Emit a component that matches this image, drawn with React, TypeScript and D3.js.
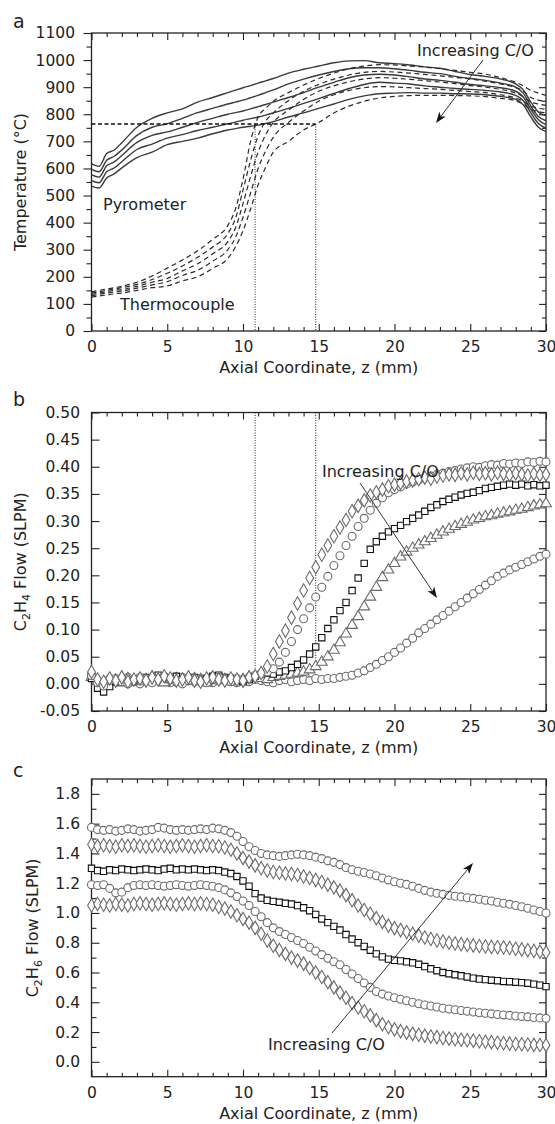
import React, { useEffect, useRef } from "react";
import * as d3 from "d3";

// ---------- Panel a: temperature ----------
const Z_A = [0, 0.5, 1, 1.5, 2, 3, 4, 5, 6, 7, 8, 9, 9.5, 10, 10.5, 11, 11.5, 12, 13, 14, 15, 16, 17, 18, 19, 20, 21, 22, 23, 24, 25, 26, 27, 28, 28.5, 29, 29.5, 30];

const PYROMETER = [
  [618, 608, 655, 668, 695, 752, 785, 805, 820, 845, 862, 880, 889, 898, 906, 915, 923, 932, 952, 966, 978, 990, 997, 998, 990, 987, 982, 975, 970, 958, 947, 940, 930, 912, 890, 845, 808, 795],
  [597, 588, 630, 645, 668, 722, 752, 765, 785, 806, 822, 838, 845, 852, 861, 870, 880, 890, 912, 930, 945, 958, 968, 972, 972, 968, 962, 955, 950, 940, 932, 925, 915, 900, 878, 830, 792, 776],
  [576, 568, 610, 624, 648, 696, 722, 735, 752, 770, 785, 800, 806, 812, 820, 828, 836, 845, 862, 880, 900, 918, 935, 945, 948, 945, 938, 930, 925, 918, 910, 905, 898, 885, 864, 818, 780, 762],
  [555, 547, 588, 602, 625, 670, 690, 712, 725, 740, 752, 765, 771, 778, 784, 790, 797, 805, 822, 840, 858, 877, 895, 910, 918, 915, 912, 905, 900, 895, 892, 888, 882, 870, 850, 805, 766, 749],
  [535, 528, 565, 580, 602, 640, 660, 688, 700, 712, 728, 742, 747, 752, 756, 760, 766, 773, 790, 805, 822, 838, 855, 868, 876, 878, 880, 878, 878, 876, 875, 872, 866, 855, 835, 790, 752, 736],
];

const THERMOCOUPLE = [
  [145, 150, 155, 160, 165, 180, 203, 232, 262, 296, 338, 390, 450, 560, 700, 790, 822, 848, 880, 908, 932, 952, 968, 978, 983, 982, 978, 974, 968, 962, 955, 948, 935, 918, 905, 888, 878, 870],
  [140, 145, 150, 155, 160, 172, 190, 213, 240, 272, 310, 360, 415, 520, 630, 720, 775, 805, 850, 885, 910, 930, 945, 955, 958, 956, 952, 947, 942, 936, 930, 922, 912, 898, 886, 862, 852, 848],
  [135, 140, 145, 150, 153, 165, 180, 194, 222, 248, 285, 330, 380, 470, 570, 660, 725, 770, 815, 855, 885, 905, 920, 930, 935, 933, 929, 924, 919, 913, 906, 900, 892, 878, 865, 845, 838, 833],
  [130, 135, 140, 144, 147, 158, 170, 182, 205, 224, 258, 300, 345, 420, 510, 600, 665, 715, 770, 812, 848, 872, 888, 898, 902, 901, 898, 895, 892, 888, 884, 880, 872, 860, 848, 830, 823, 818],
  [125, 129, 133, 137, 140, 150, 160, 166, 185, 200, 231, 268, 310, 370, 450, 540, 605, 660, 700, 742, 770, 805, 830, 848, 860, 866, 869, 870, 870, 869, 868, 865, 859, 850, 838, 818, 810, 805],
];

const LIGHT_OFF_T = 764;
const LIGHT_OFF_Z = [10.8, 14.8];

// ---------- Panels b and c: flows ----------
const Z_B = [
  0, 0.4, 0.8, 1.2, 1.6, 2, 2.4, 2.8, 3.2, 3.6,
  4, 4.4, 4.8, 5.2, 5.6, 6, 6.4, 6.8, 7.2, 7.6,
  8, 8.4, 8.8, 9.2, 9.6, 10, 10.4, 10.8, 11.2, 11.6,
  12, 12.4, 12.8, 13.2, 13.6, 14, 14.4, 14.8, 15.2, 15.6,
  16, 16.4, 16.8, 17.2, 17.6, 18, 18.4, 18.8, 19.2, 19.6,
  20, 20.4, 20.8, 21.2, 21.6, 22, 22.4, 22.8, 23.2, 23.6,
  24, 24.4, 24.8, 25.2, 25.6, 26, 26.4, 26.8, 27.2, 27.6,
  28, 28.4, 28.8, 29.2, 29.6, 30,
];

const C2H4_1 = [
  0.022, 0.008, 0.004, 0.010, 0.006, 0.012, 0.004, 0.008, 0.010, 0.006,
  0.012, 0.008, 0.014, 0.010, 0.006, 0.008, 0.012, 0.006, 0.004, 0.010,
  0.012, 0.008, 0.006, 0.010, 0.008, 0.006, 0.012, 0.014, 0.020, 0.032,
  0.055, 0.078, 0.098, 0.122, 0.148, 0.172, 0.195, 0.215, 0.238, 0.255,
  0.272, 0.288, 0.302, 0.318, 0.328, 0.338, 0.347, 0.353, 0.358, 0.364,
  0.367, 0.370, 0.373, 0.375, 0.377, 0.380, 0.378, 0.382, 0.384, 0.386,
  0.385, 0.388, 0.386, 0.389, 0.387, 0.388, 0.386, 0.389, 0.387, 0.385,
  0.388, 0.386, 0.384, 0.387, 0.385, 0.386,
];
const C2H4_2 = [
  0.015, 0.002, -0.004, 0.006, 0.010, 0.004, 0.000, 0.008, 0.012, 0.006,
  0.002, 0.010, 0.014, 0.008, 0.004, 0.000, 0.006, 0.010, 0.004, 0.002,
  0.008, 0.012, 0.006, 0.004, 0.010, 0.008, 0.012, 0.016, 0.018, 0.022,
  0.028, 0.040, 0.058, 0.078, 0.100, 0.120, 0.140, 0.160, 0.178, 0.198,
  0.218, 0.236, 0.255, 0.272, 0.290, 0.305, 0.320, 0.333, 0.343, 0.352,
  0.358, 0.363, 0.368, 0.372, 0.376, 0.380, 0.383, 0.386, 0.388, 0.391,
  0.393, 0.396, 0.398, 0.400, 0.399, 0.402, 0.404, 0.403, 0.406, 0.405,
  0.407, 0.406, 0.409, 0.408, 0.410, 0.409,
];
const C2H4_3 = [
  0.010, -0.008, -0.015, -0.005, 0.004, 0.008, 0.002, 0.006, 0.010, 0.012,
  0.008, 0.016, 0.012, 0.010, 0.014, 0.008, 0.010, 0.012, 0.006, 0.010,
  0.014, 0.016, 0.012, 0.010, 0.006, 0.004, 0.008, 0.014, 0.018, 0.020,
  0.018, 0.022, 0.024, 0.030, 0.036, 0.044, 0.055, 0.068, 0.085, 0.102,
  0.118, 0.135, 0.150, 0.172, 0.195, 0.222, 0.248, 0.262, 0.272, 0.280,
  0.286, 0.292, 0.299, 0.305, 0.311, 0.318, 0.325, 0.330, 0.336, 0.340,
  0.344, 0.348, 0.351, 0.353, 0.356, 0.360, 0.362, 0.364, 0.366, 0.368,
  0.366, 0.368, 0.365, 0.367, 0.365, 0.366,
];
const C2H4_4 = [
  0.012, 0.004, 0.000, 0.008, 0.006, 0.002, 0.010, 0.006, 0.004, 0.008,
  0.012, 0.006, 0.002, 0.008, 0.010, 0.004, 0.006, 0.010, 0.008, 0.002,
  0.006, 0.010, 0.008, 0.004, 0.006, 0.008, 0.010, 0.012, 0.010, 0.008,
  0.012, 0.014, 0.016, 0.018, 0.020, 0.022, 0.026, 0.032, 0.040, 0.050,
  0.062, 0.076, 0.092, 0.108, 0.124, 0.142, 0.160, 0.178, 0.196, 0.210,
  0.222, 0.234, 0.243, 0.250, 0.256, 0.262, 0.268, 0.274, 0.280, 0.285,
  0.290, 0.294, 0.298, 0.302, 0.305, 0.308, 0.310, 0.313, 0.315, 0.317,
  0.320, 0.322, 0.325, 0.328, 0.330, 0.332,
];
const C2H4_5 = [
  0.018, 0.006, 0.002, 0.010, 0.004, 0.008, 0.012, 0.004, 0.000, 0.006,
  0.010, 0.008, 0.004, 0.002, 0.008, 0.012, 0.006, 0.004, 0.010, 0.008,
  0.002, 0.006, 0.010, 0.004, 0.002, 0.006, 0.004, 0.008, 0.006, 0.004,
  0.002, 0.006, 0.008, 0.004, 0.006, 0.008, 0.006, 0.010, 0.008, 0.010,
  0.010, 0.012, 0.014, 0.016, 0.020, 0.024, 0.030, 0.036, 0.043, 0.050,
  0.058, 0.066, 0.075, 0.084, 0.094, 0.102, 0.110, 0.118, 0.126, 0.134,
  0.142, 0.150, 0.158, 0.166, 0.174, 0.182, 0.190, 0.198, 0.204, 0.210,
  0.215, 0.220, 0.225, 0.230, 0.235, 0.239,
];

const C2H6_1 = [
  1.575, 1.560, 1.555, 1.560, 1.550, 1.555, 1.565, 1.560, 1.550, 1.555,
  1.560, 1.575, 1.570, 1.560, 1.555, 1.560, 1.555, 1.560, 1.565, 1.560,
  1.570, 1.565, 1.555, 1.540, 1.515, 1.480, 1.445, 1.420, 1.400, 1.390,
  1.385, 1.380, 1.385, 1.390, 1.395, 1.390, 1.385, 1.375, 1.365, 1.350,
  1.340, 1.325, 1.305, 1.290, 1.280, 1.272, 1.262, 1.250, 1.235, 1.222,
  1.210, 1.200, 1.192, 1.180, 1.165, 1.152, 1.140, 1.132, 1.125, 1.118,
  1.112, 1.108, 1.102, 1.098, 1.092, 1.085, 1.080, 1.072, 1.065, 1.058,
  1.050, 1.042, 1.032, 1.020, 1.010, 1.000,
];
const C2H6_2 = [
  1.460, 1.450, 1.455, 1.450, 1.445, 1.455, 1.450, 1.455, 1.450, 1.445,
  1.450, 1.455, 1.450, 1.445, 1.450, 1.455, 1.450, 1.445, 1.450, 1.455,
  1.450, 1.448, 1.440, 1.425, 1.400, 1.370, 1.345, 1.320, 1.300, 1.285,
  1.275, 1.270, 1.265, 1.262, 1.255, 1.245, 1.235, 1.222, 1.208, 1.190,
  1.172, 1.150, 1.120, 1.085, 1.050, 1.020, 0.995, 0.965, 0.940, 0.915,
  0.898, 0.885, 0.872, 0.860, 0.848, 0.835, 0.825, 0.815, 0.808, 0.800,
  0.795, 0.790, 0.785, 0.782, 0.778, 0.775, 0.772, 0.770, 0.768, 0.765,
  0.760, 0.755, 0.750, 0.745, 0.740, 0.735,
];
const C2H6_3 = [
  1.300, 1.285, 1.280, 1.290, 1.285, 1.295, 1.290, 1.285, 1.290, 1.295,
  1.290, 1.285, 1.295, 1.300, 1.290, 1.295, 1.290, 1.295, 1.290, 1.285,
  1.290, 1.285, 1.275, 1.265, 1.245, 1.215, 1.180, 1.130, 1.100, 1.085,
  1.078, 1.072, 1.065, 1.060, 1.050, 1.035, 1.015, 0.990, 0.960, 0.935,
  0.910, 0.885, 0.855, 0.825, 0.800, 0.775, 0.750, 0.725, 0.705, 0.690,
  0.682, 0.678, 0.672, 0.665, 0.655, 0.640, 0.625, 0.612, 0.600, 0.592,
  0.585, 0.578, 0.570, 0.562, 0.556, 0.552, 0.548, 0.545, 0.540, 0.538,
  0.535, 0.532, 0.528, 0.522, 0.515, 0.505,
];
const C2H6_4 = [
  1.190, 1.185, 1.190, 1.165, 1.135, 1.140, 1.170, 1.185, 1.190, 1.185,
  1.190, 1.185, 1.180, 1.185, 1.190, 1.185, 1.180, 1.185, 1.190, 1.185,
  1.180, 1.170, 1.155, 1.135, 1.110, 1.080, 1.050, 1.010, 0.975, 0.935,
  0.900, 0.875, 0.855, 0.835, 0.815, 0.795, 0.770, 0.745, 0.720, 0.695,
  0.672, 0.652, 0.620, 0.590, 0.560, 0.530, 0.500, 0.472, 0.455, 0.442,
  0.430, 0.420, 0.410, 0.400, 0.390, 0.382, 0.375, 0.368, 0.360, 0.355,
  0.350, 0.345, 0.340, 0.335, 0.330, 0.326, 0.322, 0.318, 0.315, 0.312,
  0.308, 0.305, 0.302, 0.298, 0.295, 0.292,
];
const C2H6_5 = [
  1.050, 1.060, 1.055, 1.050, 1.060, 1.055, 1.050, 1.060, 1.065, 1.060,
  1.055, 1.060, 1.065, 1.060, 1.055, 1.060, 1.065, 1.060, 1.065, 1.060,
  1.055, 1.040, 1.030, 1.010, 0.985, 0.960, 0.935, 0.900, 0.860, 0.815,
  0.780, 0.752, 0.725, 0.700, 0.680, 0.660, 0.630, 0.600, 0.570, 0.535,
  0.500, 0.465, 0.430, 0.395, 0.365, 0.340, 0.312, 0.280, 0.252, 0.232,
  0.218, 0.206, 0.196, 0.188, 0.182, 0.176, 0.170, 0.166, 0.160, 0.156,
  0.152, 0.148, 0.145, 0.142, 0.138, 0.135, 0.132, 0.128, 0.125, 0.122,
  0.120, 0.118, 0.116, 0.114, 0.113, 0.112,
];

// tick values
const X_MAJOR = [0, 5, 10, 15, 20, 25, 30];
const X_MINOR = [1, 2, 3, 4, 6, 7, 8, 9, 11, 12, 13, 14, 16, 17, 18, 19, 21, 22, 23, 24, 26, 27, 28, 29];
const YA_MAJOR = [0, 100, 200, 300, 400, 500, 600, 700, 800, 900, 1000, 1100];
const YA_MINOR = [50, 150, 250, 350, 450, 550, 650, 750, 850, 950, 1050];
const YB_MAJOR = [-0.05, 0, 0.05, 0.1, 0.15, 0.2, 0.25, 0.3, 0.35, 0.4, 0.45, 0.5];
const YC_MAJOR = [0, 0.2, 0.4, 0.6, 0.8, 1.0, 1.2, 1.4, 1.6, 1.8];
const YC_MINOR = [0.1, 0.3, 0.5, 0.7, 0.9, 1.1, 1.3, 1.5, 1.7];

const FONT = "'DejaVu Sans', 'Liberation Sans', Arial, sans-serif";
const INK = "#222";
const GREY = "#6a6a6a";

const L = 91.5;
const R = 546;
const PA = { top: 33, bottom: 331 };
const PB = { top: 412.5, bottom: 711 };
const PC = { top: 779, bottom: 1076.7 };

export default function App() {
  const ref = useRef<SVGSVGElement>(null);

  useEffect(() => {
    const svg = d3.select(ref.current);
    svg.selectAll("*").remove();

    const x = d3.scaleLinear().domain([0, 30]).range([L, R]);
    const ya = d3.scaleLinear().domain([0, 1100]).range([PA.bottom, PA.top]);
    const yb = d3.scaleLinear().domain([-0.05, 0.5]).range([PB.bottom, PB.top]);
    const yc = d3.scaleLinear().domain([-0.1, 1.9]).range([PC.bottom, PC.top]);

    const styleAxis = (g: any) => {
      g.selectAll(".domain").remove();
      g.selectAll(".tick line").attr("stroke", INK).attr("stroke-width", 1.1);
      g.selectAll(".tick text")
        .attr("font-family", FONT)
        .attr("font-size", 15.5)
        .attr("fill", INK);
    };

    function axes(
      y: d3.ScaleLinear<number, number>,
      frame: { top: number; bottom: number },
      leftMajor: number[],
      leftMinor: number[],
      leftOut: boolean,
      rightMinor: boolean,
      fmt: (v: number) => string
    ) {
      const g = svg.append("g");
      const bot = g.append("g").attr("transform", `translate(0,${frame.bottom})`);
      bot.call(d3.axisBottom(x).tickValues(X_MAJOR).tickSize(-7).tickPadding(10).tickFormat((d: any) => String(d)) as any);
      bot.append("g").call(d3.axisBottom(x).tickValues(X_MINOR).tickSize(-4).tickFormat(() => "") as any);
      const top = g.append("g").attr("transform", `translate(0,${frame.top})`);
      top.call(d3.axisTop(x).tickValues(X_MAJOR).tickSize(-7).tickFormat(() => "") as any);
      top.append("g").call(d3.axisTop(x).tickValues(X_MINOR).tickSize(-4).tickFormat(() => "") as any);
      const left = g.append("g").attr("transform", `translate(${L},0)`);
      left.call(
        d3.axisLeft(y).tickValues(leftMajor).tickSize(leftOut ? 8 : -8).tickPadding(leftOut ? 8.5 : 11.5).tickFormat((d: any) => fmt(d)) as any
      );
      if (leftMinor.length)
        left.append("g").call(d3.axisLeft(y).tickValues(leftMinor).tickSize(leftOut ? 5 : -5).tickFormat(() => "") as any);
      const right = g.append("g").attr("transform", `translate(${R},0)`);
      right.call(d3.axisRight(y).tickValues(leftMajor).tickSize(-7).tickFormat(() => "") as any);
      if (rightMinor && leftMinor.length)
        right.append("g").call(d3.axisRight(y).tickValues(leftMinor).tickSize(-4).tickFormat(() => "") as any);
      styleAxis(g);
      g.append("rect")
        .attr("x", L)
        .attr("y", frame.top)
        .attr("width", R - L)
        .attr("height", frame.bottom - frame.top)
        .attr("fill", "none")
        .attr("stroke", INK)
        .attr("stroke-width", 1.3);
      g.append("text")
        .attr("x", (L + R) / 2)
        .attr("y", frame.bottom + 42)
        .attr("text-anchor", "middle")
        .attr("font-family", FONT)
        .attr("font-size", 16)
        .attr("fill", INK)
        .text("Axial Coordinate, z (mm)");
    }

    const label = (t: string, xx: number, yy: number, size = 16, anchor = "start") =>
      svg
        .append("text")
        .attr("x", xx)
        .attr("y", yy)
        .attr("font-family", FONT)
        .attr("font-size", size)
        .attr("fill", INK)
        .attr("text-anchor", anchor)
        .text(t);

    const yTitle = (parts: [string, boolean][], xx: number, cy: number) => {
      const t = svg
        .append("text")
        .attr("transform", `translate(${xx},${cy}) rotate(-90)`)
        .attr("text-anchor", "middle")
        .attr("font-family", FONT)
        .attr("font-size", 16)
        .attr("fill", INK);
      let sub = false;
      parts.forEach(([s, isSub]) => {
        const sp = t.append("tspan").text(s);
        if (isSub && !sub) sp.attr("dy", 4).attr("font-size", 11);
        else if (isSub) sp.attr("font-size", 11);
        else if (!isSub && sub) sp.attr("dy", -4);
        sub = isSub;
      });
    };

    const arrow = (x1: number, y1: number, x2: number, y2: number) => {
      const ang = Math.atan2(y2 - y1, x2 - x1);
      const len = 11;
      const w = 4;
      const bx = x2 - len * Math.cos(ang);
      const by = y2 - len * Math.sin(ang);
      svg
        .append("line")
        .attr("x1", x1)
        .attr("y1", y1)
        .attr("x2", bx + 3 * Math.cos(ang))
        .attr("y2", by + 3 * Math.sin(ang))
        .attr("stroke", "#333")
        .attr("stroke-width", 1);
      const p = [
        [x2, y2],
        [bx - w * Math.sin(ang), by + w * Math.cos(ang)],
        [bx + 3 * Math.cos(ang), by + 3 * Math.sin(ang)],
        [bx + w * Math.sin(ang), by - w * Math.cos(ang)],
      ];
      svg.append("path").attr("d", "M" + p.map((q) => q.join(",")).join("L") + "Z").attr("fill", "#111");
    };

    // ---------------- panel a ----------------
    axes(ya, PA, YA_MAJOR, YA_MINOR, true, true, (v) => String(v));
    const lineA = (vals: number[]) =>
      d3
        .line<number>()
        .x((_, i) => x(Z_A[i]))
        .y((v) => ya(v))
        .curve(d3.curveMonotoneX)(vals) as string;

    PYROMETER.forEach((s) =>
      svg.append("path").attr("d", lineA(s)).attr("fill", "none").attr("stroke", "#3a3a3a").attr("stroke-width", 1.4)
    );
    THERMOCOUPLE.forEach((s) =>
      svg
        .append("path")
        .attr("d", lineA(s))
        .attr("fill", "none")
        .attr("stroke", "#2a2a2a")
        .attr("stroke-width", 1.2)
        .attr("stroke-dasharray", "5,3.5")
    );
    // light-off guides
    svg
      .append("line")
      .attr("x1", x(0))
      .attr("x2", x(LIGHT_OFF_Z[1]))
      .attr("y1", ya(LIGHT_OFF_T))
      .attr("y2", ya(LIGHT_OFF_T))
      .attr("stroke", "#111")
      .attr("stroke-width", 1.5)
      .attr("stroke-dasharray", "4,2.5");
    LIGHT_OFF_Z.forEach((z) =>
      svg
        .append("line")
        .attr("x1", x(z))
        .attr("x2", x(z))
        .attr("y1", ya(LIGHT_OFF_T))
        .attr("y2", ya(0))
        .attr("stroke", "#222")
        .attr("stroke-width", 1)
        .attr("stroke-dasharray", "1,1.5")
    );
    label("a", 13, 28, 19);
    label("Pyrometer", 103, 210);
    label("Thermocouple", 120, 310);
    label("Increasing C/O", 417, 56);
    arrow(483, 60, 436, 123);
    yTitle([["Temperature (°C)", false]], 26, (PA.top + PA.bottom) / 2);

    // ---------------- panel b ----------------
    axes(yb, PB, YB_MAJOR, [], false, false, (v) => v.toFixed(2));
    LIGHT_OFF_Z.forEach((z) =>
      svg
        .append("line")
        .attr("x1", x(z))
        .attr("x2", x(z))
        .attr("y1", yb(0.5))
        .attr("y2", yb(0.025))
        .attr("stroke", "#222")
        .attr("stroke-width", 1)
        .attr("stroke-dasharray", "1,1.5")
    );

    const marks = (
      y: d3.ScaleLinear<number, number>,
      vals: number[],
      type: d3.SymbolType,
      size: number,
      stroke: string
    ) => {
      const g = svg.append("g");
      const sym = d3.symbol().type(type).size(size)() as string;
      vals.forEach((v, i) => {
        g.append("path")
          .attr("d", sym)
          .attr("transform", `translate(${x(Z_B[i])},${y(v)})`)
          .attr("fill", "#fff")
          .attr("stroke", stroke)
          .attr("stroke-width", 1.1);
      });
    };

    marks(yb, C2H4_5, d3.symbolCircle, 50, GREY);
    marks(yb, C2H4_4, d3.symbolTriangle, 50, GREY);
    marks(yb, C2H4_3, d3.symbolSquare, 40, "#111");
    marks(yb, C2H4_2, d3.symbolCircle, 50, GREY);
    marks(yb, C2H4_1, d3.symbolDiamond, 52, GREY);

    label("b", 13, 406, 19);
    label("Increasing C/O", 322, 477);
    arrow(360, 483, 437, 598);
    yTitle(
      [
        ["C", false],
        ["2", true],
        ["H", false],
        ["4", true],
        [" Flow (SLPM)", false],
      ],
      26,
      (PB.top + PB.bottom) / 2
    );

    // ---------------- panel c ----------------
    axes(yc, PC, YC_MAJOR, YC_MINOR, false, true, (v) => v.toFixed(1));
    marks(yc, C2H6_1, d3.symbolCircle, 50, GREY);
    marks(yc, C2H6_2, d3.symbolDiamond, 52, GREY);
    marks(yc, C2H6_3, d3.symbolSquare, 40, "#111");
    marks(yc, C2H6_4, d3.symbolCircle, 50, GREY);
    marks(yc, C2H6_5, d3.symbolDiamond, 52, GREY);

    label("c", 13, 777, 19);
    label("Increasing C/O", 268, 1050);
    arrow(332, 1033, 473, 863);
    yTitle(
      [
        ["C", false],
        ["2", true],
        ["H", false],
        ["6", true],
        [" Flow (SLPM)", false],
      ],
      38,
      (PC.top + PC.bottom) / 2
    );
  }, []);

  return (
    <svg
      ref={ref}
      width={555}
      height={1124}
      style={{ position: "absolute", left: 0, top: 0, background: "#fff" }}
    />
  );
}
